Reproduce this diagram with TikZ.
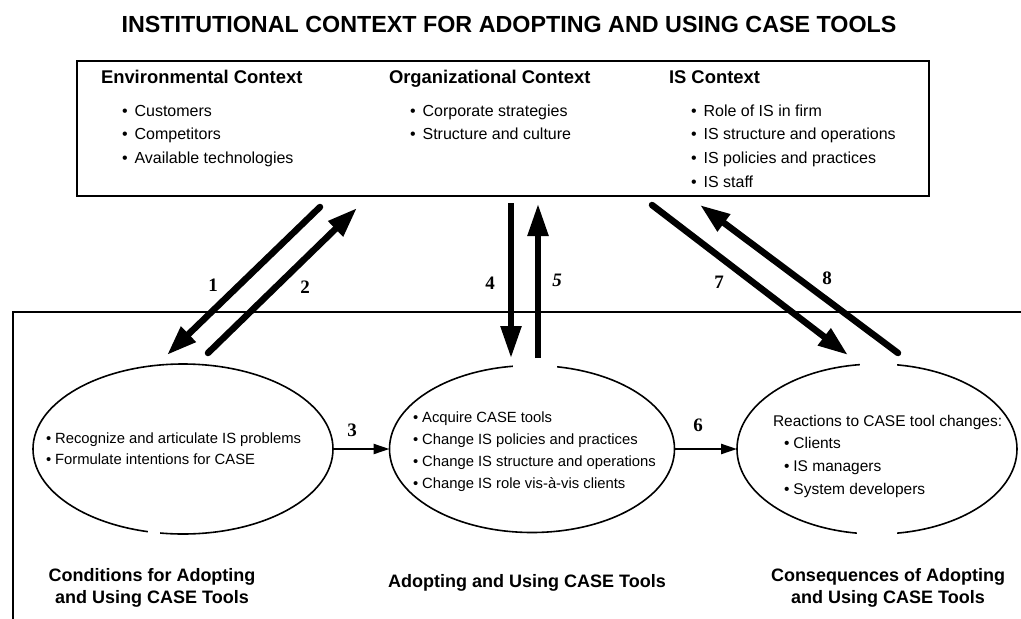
\documentclass[tikz,border=0pt]{standalone}
\usepackage{fontspec}
\setmainfont{Liberation Sans}
\newfontfamily\numfont{Liberation Serif}
\usetikzlibrary{arrows.meta,shapes.geometric}
\begin{document}
\begin{tikzpicture}[x=1pt,y=-1pt,
  every node/.style={inner sep=0pt, outer sep=0pt},
  titlefont/.style={font=\fontsize{23.3}{26}\selectfont\bfseries},
  hdr/.style={anchor=base west, font=\fontsize{18.4}{22}\selectfont\bfseries},
  item/.style={anchor=base west, font=\fontsize{16}{20}\selectfont},
  eitem/.style={anchor=base west, font=\fontsize{14.8}{18}\selectfont},
  capt/.style={align=center, font=\fontsize{18}{22}\selectfont\bfseries},
  num/.style={font=\fontsize{19}{19}\selectfont\numfont\bfseries},
  ell/.style={ellipse, draw, line width=1.6pt},
  bigarrow/.style={line width=6.5pt, line cap=round, -{Triangle[length=30pt,width=20pt]}},
  midarrow/.style={line width=5.5pt, -{Triangle[length=32pt,width=20pt]}},
  smallarrow/.style={line width=2.4pt, -{Triangle[length=16pt,width=10pt]}},
  gap/.style={fill=white, draw=none}
]
\useasboundingbox (0,0) rectangle (1021,619);

% title
\node[titlefont] (title) at (509,24) {INSTITUTIONAL CONTEXT FOR ADOPTING AND USING CASE TOOLS};

% context box
\node[draw, line width=2.4pt, minimum width=852pt, minimum height=135pt, anchor=north west] (ctx) at (77,61) {};
\node[hdr] (henv) at (101,83) {Environmental Context};
\node[hdr] (horg) at (389,83) {Organizational Context};
\node[hdr] (his)  at (669,83) {IS Context};
\foreach \t [count=\i] in {Customers, Competitors, Available technologies}
  \node[item] (env\i) at (122,{116+23.7*(\i-1)}) {•\hspace{7pt}\t};
\foreach \t [count=\i] in {Corporate strategies, Structure and culture}
  \node[item] (org\i) at (410,{116+23.7*(\i-1)}) {•\hspace{7pt}\t};
\foreach \t [count=\i] in {Role of IS in firm, IS structure and operations, IS policies and practices, IS staff}
  \node[item] (isc\i) at (691,{116+23.7*(\i-1)}) {•\hspace{7pt}\t};

% lower frame
\draw[line width=2.4pt] (13,619) -- (13,312) -- (1021,312);

% ellipses
\node[ell, minimum width=300pt, minimum height=170pt] (e1) at (183,449) {};
\node[ell, minimum width=285pt, minimum height=167pt] (e2) at (532,449) {};
\node[ell, minimum width=280pt, minimum height=170pt] (e3) at (877,449) {};
% gaps in the outlines
\path[gap] (148,528) rectangle (160,542);
\path[gap] (513,359) rectangle (557,374);
\path[gap] (860,357) rectangle (897,372);
\path[gap] (857,526) rectangle (897,541);

% ellipse texts
\node[eitem] (c1) at (46,443) {•\hspace{4pt}Recognize and articulate IS problems};
\node[eitem] (c2) at (46,464) {•\hspace{4pt}Formulate intentions for CASE};
\foreach \t [count=\i] in {Acquire CASE tools, Change IS policies and practices, Change IS structure and operations, Change IS role vis-à-vis clients}
  \node[eitem] (a\i) at (413,{422+22*(\i-1)}) {•\hspace{4pt}\t};
\node[eitem, font=\fontsize{15.5}{18}\selectfont] (r0) at (773,426) {Reactions to CASE tool changes:};
\foreach \t [count=\i] in {Clients, IS managers, System developers}
  \node[eitem, font=\fontsize{15.5}{18}\selectfont] (r\i) at (784,{448+23*(\i-1)}) {•\hspace{4pt}\t};

% captions
\node[capt] (cap1) at (152,588) {Conditions for Adopting\\and Using CASE Tools};
\node[capt] (cap2) at (527,583) {Adopting and Using CASE Tools};
\node[capt] (cap3) at (888,588) {Consequences of Adopting\\and Using CASE Tools};

% horizontal connectors
\draw[smallarrow] (e1.east) -- (e2.west);
\draw[smallarrow] (e2.east) -- (e3.west);
\node[num] (n3) at (352,430) {3};
\node[num] (n6) at (698,425) {6};

% big arrows
\coordinate (t1) at (320,207); \coordinate (h1) at (167,355);
\coordinate (t2) at (208,353); \coordinate (h2) at (357,208);
\coordinate (t4) at (511,203); \coordinate (h4) at (511,358);
\coordinate (t5) at (538,358); \coordinate (h5) at (538,204);
\coordinate (t7) at (652,205); \coordinate (h7) at (848,355);
\coordinate (t8) at (898,353); \coordinate (h8) at (700,205);
\draw[bigarrow] (t1) -- (h1);
\draw[bigarrow] (t2) -- (h2);
\draw[midarrow] (t4) -- (h4);
\draw[midarrow] (t5) -- (h5);
\draw[bigarrow] (t7) -- (h7);
\draw[bigarrow] (t8) -- (h8);
\node[num] (n1) at (213,285) {1};
\node[num] (n2) at (305,287) {2};
\node[num] (n4) at (490,283) {4};
\node[num, font=\fontsize{19}{19}\selectfont\numfont\bfseries\itshape] (n5) at (557,280) {5};
\node[num] (n7) at (719,282) {7};
\node[num] (n8) at (827,278) {8};
\end{tikzpicture}
\end{document}
